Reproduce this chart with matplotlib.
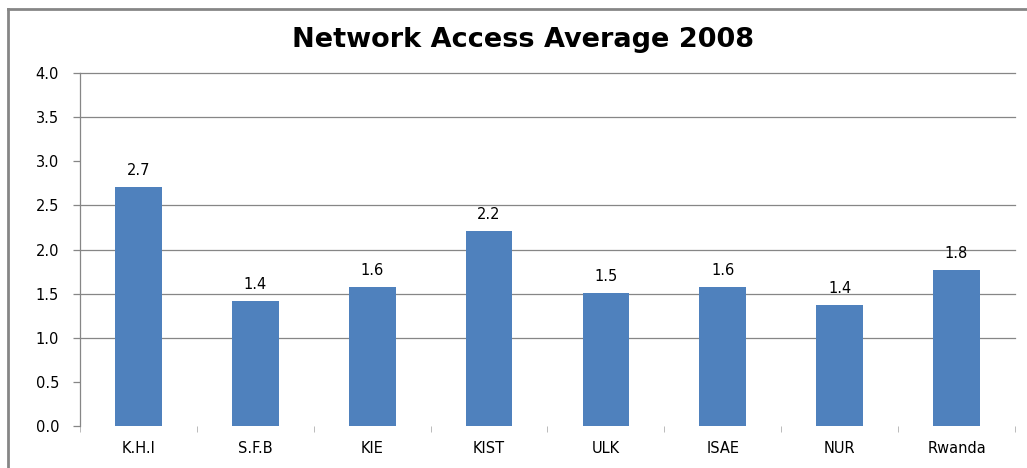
import matplotlib
matplotlib.use("Agg")
import matplotlib.pyplot as plt
from matplotlib.lines import Line2D
import numpy as np

plt.rcParams['font.family'] = ['DejaVu Sans']

# data
sites = ["K.H.I", "S.F.B", "KIE", "KIST", "ULK", "ISAE", "NUR", "Rwanda"]
averages = [2.71, 1.42, 1.58, 2.21, 1.51, 1.58, 1.37, 1.77]
value_labels = ["2.7", "1.4", "1.6", "2.2", "1.5", "1.6", "1.4", "1.8"]
y_ticks = [0.0, 0.5, 1.0, 1.5, 2.0, 2.5, 3.0, 3.5, 4.0]
grid_levels = [1.0, 1.5, 2.0, 2.5, 3.5, 4.0]  # lines visible in the scan

bar_color = "#4F81BD"
line_gray = "#868686"

fig = plt.figure(figsize=(10.27, 4.68), dpi=100)
ax = fig.add_axes([0.0779, 0.0897, 0.9104, 0.7543])

x = np.arange(len(sites))
ax.bar(x, averages, width=0.4, color=bar_color, zorder=3)

for xi, v, lab in zip(x, averages, value_labels):
    ax.text(xi, v + 0.1, lab, ha="center", va="bottom", fontsize=10.5, color="black")

for g in grid_levels:
    ax.axhline(g, color=line_gray, linewidth=0.9, zorder=1, clip_on=False)

ax.set_xlim(-0.5, len(sites) - 0.5)
ax.set_ylim(0, 4.0)
ax.set_yticks(y_ticks)
ax.set_yticklabels(["%.1f" % t for t in y_ticks], fontsize=10.5)
ax.tick_params(axis="y", length=5, color=line_gray, width=0.9, pad=10)

ax.set_xticks(x)
ax.set_xticklabels(sites, fontsize=10.5)
ax.set_xticks(np.arange(len(sites) + 1) - 0.5, minor=True)
ax.tick_params(axis="x", which="major", length=0, pad=11)
ax.tick_params(axis="x", which="minor", length=4, color="#b0b0b0", direction="out", pad=4)

for s in ["top", "right", "bottom"]:
    ax.spines[s].set_visible(False)
ax.spines["left"].set_color(line_gray)
ax.spines["left"].set_linewidth(0.9)

fig.text(0.509, 0.915, "Network Access Average 2008", ha="center", va="center",
         fontsize=19.5, fontweight="bold")

# outer chart border (left and top edges only are visible)
fig.add_artist(Line2D([8 / 1027, 8 / 1027], [0, 1 - 9 / 468], color=line_gray, linewidth=2))
fig.add_artist(Line2D([8 / 1027, 1], [1 - 9 / 468, 1 - 9 / 468], color=line_gray, linewidth=2))

fig.savefig("out.png", dpi=100)
